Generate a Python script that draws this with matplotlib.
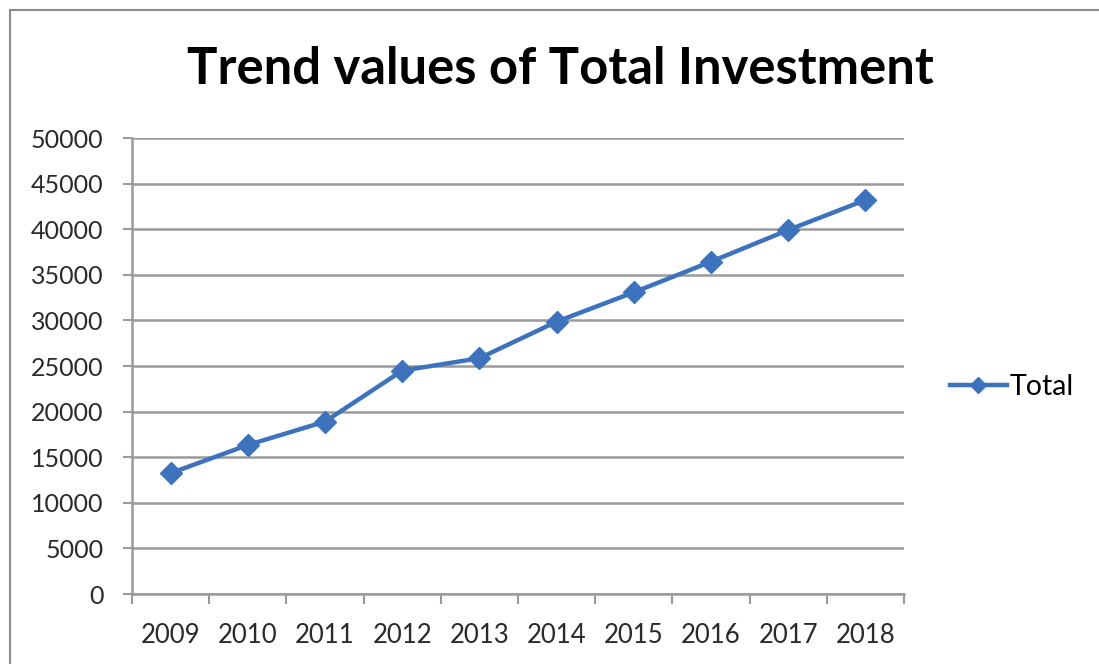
import numpy as np
import matplotlib
matplotlib.use("Agg")
import matplotlib.pyplot as plt
from matplotlib.patches import Rectangle

# yearly totals
years = ["2009", "2010", "2011", "2012", "2013", "2014", "2015", "2016", "2017", "2018"]
total = [13250, 16340, 18900, 24490, 25850, 29860, 33080, 36440, 39910, 43200]
yticks = [0, 5000, 10000, 15000, 20000, 25000, 30000, 35000, 40000, 45000, 50000]

plt.rcParams['font.family'] = ['Lato', 'DejaVu Sans']

fig = plt.figure(figsize=(10.99, 6.64), dpi=100)
fig.patch.set_facecolor("white")
fig.patches.append(Rectangle((10/1099, -0.01), 1.0, 1 - 10/664 + 0.01, transform=fig.transFigure,
                             fill=False, edgecolor="#8c8c8c", linewidth=1.5))

ax = fig.add_axes([132/1099, 1 - 594/664, 772/1099, 456/664])
x = np.arange(len(years))
line, = ax.plot(x, total, color="#3d72bd", lw=3.2, marker="D", ms=11,
                markeredgecolor="#3d72bd", label="Total")

ax.set_xlim(-0.5, len(years) - 0.5)
ax.set_ylim(0, 50000)
ax.set_yticks(yticks)
ax.set_yticklabels([str(v) for v in yticks], fontsize=18, color="#2a2a2a")
ax.set_xticks(x)
ax.set_xticklabels(years, fontsize=18.5, color="#2a2a2a")
ax.set_xticks(np.arange(-0.5, len(years)), minor=True)
ax.tick_params(axis="x", which="major", length=0, pad=21)
ax.tick_params(axis="x", which="minor", length=7, width=1.5, color="#9a9a9a", direction="out")
ax.tick_params(axis="y", length=6.5, width=1.5, color="#9a9a9a", pad=14)

ax.grid(axis="y", color="#9a9a9a", lw=1.8)
ax.set_axisbelow(True)
for s in ["top", "right"]:
    ax.spines[s].set_visible(False)
ax.spines["left"].set_color("#9a9a9a")
ax.spines["left"].set_linewidth(1.8)
ax.spines["bottom"].set_color("#9a9a9a")
ax.spines["bottom"].set_linewidth(1.8)

fig.text(560/1099, 1 - 70/664, "Trend values of Total Investment", ha="center", va="center",
         fontsize=36.5, fontweight="bold", color="black")

fig.legend(handles=[line], loc="center left", bbox_to_anchor=(950/1099, 1 - 387/664),
           frameon=False, fontsize=20.5, handlelength=2.0, handletextpad=0.1,
           markerscale=0.7, borderpad=0, borderaxespad=0)

fig.savefig("out.png", dpi=100)
